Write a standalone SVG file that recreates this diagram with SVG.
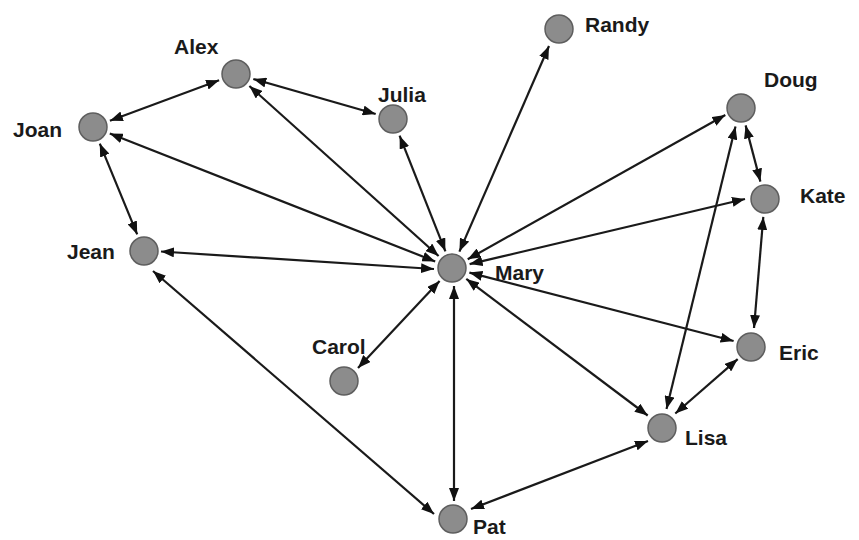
<svg xmlns="http://www.w3.org/2000/svg" width="859" height="540" viewBox="0 0 859 540">
<defs>
<marker id="ah" viewBox="0 0 13 10" refX="13" refY="5" markerWidth="13" markerHeight="10" markerUnits="userSpaceOnUse" orient="auto-start-reverse">
<path d="M0,0 L13,5 L0,10 z" fill="#111"/>
</marker>
<style>
.e{stroke:#1a1a1a;stroke-width:2.2;fill:none;marker-start:url(#ah);marker-end:url(#ah)}
.n{fill:#8c8c8c;stroke:#5e5e5e;stroke-width:1.5}
.t{font-family:"Liberation Sans",Arial,sans-serif;font-weight:bold;font-size:21px;fill:#1a1a1a}
</style>
</defs>
<rect width="859" height="540" fill="#fff"/>
<g id="connectors">
<line class="e" x1="109.9" y1="120.7" x2="219.1" y2="80.3"/>
<line class="e" x1="253.3" y1="79" x2="375.7" y2="114"/>
<line class="e" x1="99.8" y1="143.6" x2="137.2" y2="234.4"/>
<line class="e" x1="109.8" y1="133.6" x2="435.2" y2="261.4"/>
<line class="e" x1="249.4" y1="86" x2="438.6" y2="256"/>
<line class="e" x1="399.6" y1="135.7" x2="445.4" y2="251.3"/>
<line class="e" x1="549" y1="46" x2="459.4" y2="251.6"/>
<line class="e" x1="725.3" y1="115" x2="467.7" y2="259.3"/>
<line class="e" x1="745" y1="199" x2="469.6" y2="264.1"/>
<line class="e" x1="161" y1="251.5" x2="434" y2="269"/>
<line class="e" x1="358" y1="368" x2="439.6" y2="281"/>
<line class="e" x1="733.6" y1="341" x2="469.4" y2="272.6"/>
<line class="e" x1="647.7" y1="415.5" x2="466.3" y2="278.9"/>
<line class="e" x1="454" y1="501" x2="454" y2="286"/>
<line class="e" x1="745.6" y1="125.4" x2="760.4" y2="181.6"/>
<line class="e" x1="763.3" y1="216.9" x2="754" y2="328"/>
<line class="e" x1="735.5" y1="126.5" x2="666.5" y2="409"/>
<line class="e" x1="737.7" y1="359.1" x2="675.3" y2="413.5"/>
<line class="e" x1="648" y1="441" x2="471" y2="509"/>
<line class="e" x1="153" y1="271" x2="434" y2="514"/>
</g>
<g id="Alex"><circle class="n" cx="236" cy="74" r="14"/><text class="t" x="174" y="54">Alex</text></g>
<g id="Julia"><circle class="n" cx="393" cy="119" r="14"/><text class="t" x="378" y="102">Julia</text></g>
<g id="Randy"><circle class="n" cx="559" cy="29" r="14"/><text class="t" x="585" y="32">Randy</text></g>
<g id="Joan"><circle class="n" cx="93" cy="127" r="14"/><text class="t" x="13" y="137">Joan</text></g>
<g id="Doug"><circle class="n" cx="741" cy="108" r="14"/><text class="t" x="764" y="87">Doug</text></g>
<g id="Kate"><circle class="n" cx="765" cy="199" r="14"/><text class="t" x="800" y="203">Kate</text></g>
<g id="Jean"><circle class="n" cx="144" cy="251" r="14"/><text class="t" x="67" y="259">Jean</text></g>
<g id="Mary"><circle class="n" cx="452" cy="268" r="14"/><text class="t" x="495" y="280">Mary</text></g>
<g id="Carol"><circle class="n" cx="344" cy="381" r="14"/><text class="t" x="312" y="354">Carol</text></g>
<g id="Eric"><circle class="n" cx="751" cy="347" r="14"/><text class="t" x="779" y="360">Eric</text></g>
<g id="Lisa"><circle class="n" cx="662" cy="428" r="14"/><text class="t" x="685" y="445">Lisa</text></g>
<g id="Pat"><circle class="n" cx="453" cy="519" r="14"/><text class="t" x="473" y="534">Pat</text></g>
</svg>
